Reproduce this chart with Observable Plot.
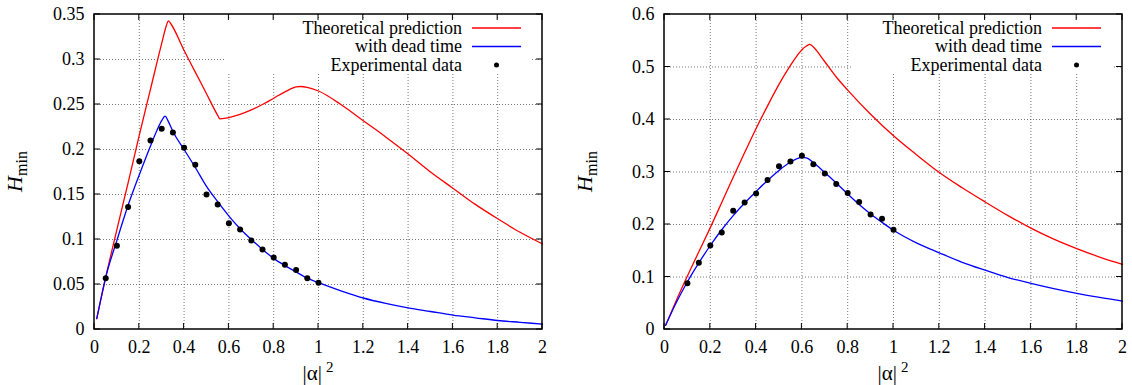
<!DOCTYPE html>
<html>
<head>
<meta charset="utf-8">
<script src="https://cdn.jsdelivr.net/npm/d3@7"></script>
<script src="https://cdn.jsdelivr.net/npm/@observablehq/plot@0.6"></script>
<style>
  html, body { margin: 0; padding: 0; background: #fff; }
  #wrap { display: flex; width: 1132px; height: 385px; overflow: hidden; }
</style>
</head>
<body>
<div id="wrap"></div>
<script>
// ---------- shared ticks ----------
const xTicks = [0, 0.2, 0.4, 0.6, 0.8, 1.0, 1.2, 1.4, 1.6, 1.8, 2.0];
const yTicksLeft = [0, 0.05, 0.1, 0.15, 0.2, 0.25, 0.3, 0.35];
const yTicksRight = [0, 0.1, 0.2, 0.3, 0.4, 0.5, 0.6];
const legendLabels = ["Theoretical prediction", "with dead time", "Experimental data"];

// ---------- left panel ----------
const leftTheoryX = [0.01,0.05,0.1,0.15,0.2,0.25,0.3,0.32,0.33,0.34,0.4,0.45,0.5,0.55,0.56,0.57,0.6,0.65,0.7,0.75,0.8,0.85,0.9,0.92,0.95,1.0,1.1,1.2,1.3,1.4,1.5,1.6,1.7,1.8,1.9,2.0];
const leftTheoryY = [0.012,0.058,0.111,0.163,0.216,0.267,0.318,0.337,0.343,0.340,0.310,0.286,0.262,0.238,0.234,0.2343,0.2355,0.239,0.244,0.250,0.257,0.264,0.2695,0.270,0.269,0.265,0.250,0.232,0.214,0.195,0.175,0.157,0.139,0.123,0.108,0.095];
const leftDeadX = [0.01,0.05,0.1,0.15,0.2,0.25,0.28,0.3,0.315,0.33,0.35,0.4,0.45,0.5,0.55,0.6,0.65,0.7,0.75,0.8,0.85,0.9,0.95,1.0,1.1,1.2,1.3,1.4,1.5,1.6,1.7,1.8,1.9,2.0];
const leftDeadY = [0.012,0.058,0.099,0.138,0.172,0.204,0.222,0.232,0.237,0.231,0.220,0.200,0.180,0.159,0.142,0.126,0.112,0.100,0.089,0.079,0.071,0.064,0.057,0.052,0.043,0.035,0.029,0.024,0.020,0.016,0.013,0.010,0.008,0.006];
const leftExpX = [0.05,0.1,0.15,0.2,0.25,0.3,0.35,0.4,0.45,0.5,0.55,0.6,0.65,0.7,0.75,0.8,0.85,0.9,0.95,1.0];
const leftExpY = [0.057,0.093,0.136,0.187,0.210,0.223,0.219,0.202,0.183,0.150,0.139,0.118,0.111,0.099,0.089,0.080,0.072,0.066,0.057,0.052];

// ---------- right panel ----------
const rightTheoryX = [0.005,0.05,0.1,0.15,0.2,0.25,0.3,0.35,0.4,0.45,0.5,0.55,0.58,0.6,0.62,0.635,0.65,0.7,0.75,0.8,0.9,1.0,1.1,1.2,1.3,1.4,1.5,1.6,1.7,1.8,1.9,2.0];
const rightTheoryY = [0.008,0.054,0.102,0.148,0.194,0.242,0.290,0.337,0.383,0.426,0.467,0.503,0.522,0.533,0.540,0.543,0.538,0.510,0.481,0.456,0.410,0.369,0.333,0.299,0.270,0.243,0.217,0.193,0.172,0.154,0.138,0.124];
const rightDeadX = [0.005,0.05,0.1,0.15,0.2,0.25,0.3,0.35,0.4,0.45,0.5,0.55,0.6,0.62,0.65,0.7,0.75,0.8,0.85,0.9,0.95,1.0,1.1,1.2,1.3,1.4,1.5,1.6,1.7,1.8,1.9,2.0];
const rightDeadY = [0.008,0.050,0.091,0.127,0.160,0.190,0.217,0.241,0.263,0.284,0.303,0.319,0.328,0.327,0.318,0.299,0.279,0.258,0.238,0.220,0.204,0.189,0.165,0.146,0.128,0.113,0.099,0.088,0.078,0.069,0.061,0.054];
const rightExpX = [0.1,0.15,0.2,0.25,0.3,0.35,0.4,0.45,0.5,0.55,0.6,0.65,0.7,0.75,0.8,0.85,0.9,0.95,1.0];
const rightExpY = [0.088,0.127,0.160,0.185,0.226,0.242,0.259,0.285,0.311,0.320,0.331,0.315,0.297,0.277,0.260,0.243,0.219,0.211,0.190];

const FONT = "'Liberation Serif', 'Times New Roman', serif";
const fmt = d => d === 0 ? "0" : String(+(+d).toFixed(2));
const zip = (xs, ys) => xs.map((x, i) => ({x, y: ys[i]}));

function panel({theoryX, theoryY, deadX, deadY, expX, expY, yMax, yTicks, marginLeft, marginRight, boxLeftOffset}) {
  const W = 566, H = 385, mT = 14, mB = 56;
  const grid = {stroke: "#555", strokeWidth: 0.8, strokeDasharray: "1,2"};
  const plot = Plot.plot({
    width: W, height: H,
    marginTop: mT, marginBottom: mB, marginLeft, marginRight,
    style: {fontFamily: FONT, fontSize: "18px", color: "#000", background: "#fff", overflow: "visible"},
    x: {domain: [0, 2], ticks: xTicks, tickFormat: fmt, tickSize: 0, tickPadding: 11, label: null},
    y: {domain: [0, yMax], ticks: yTicks, tickFormat: fmt, tickSize: 0, tickPadding: 10, label: null},
    marks: [
      Plot.ruleX(xTicks.slice(1, -1), {x: d => d, ...grid}),
      Plot.ruleY(yTicks.slice(1, -1), {y: d => d, ...grid}),
      Plot.line(zip(theoryX, theoryY), {x: "x", y: "y", stroke: "#ff0000", strokeWidth: 1.3, curve: "monotone-x"}),
      Plot.line(zip(deadX, deadY), {x: "x", y: "y", stroke: "#0000ff", strokeWidth: 1.3, curve: "monotone-x"}),
      Plot.dot(zip(expX, expY), {x: "x", y: "y", r: 3, fill: "#000", stroke: "none"})
    ]
  });
  const svg = d3.select(plot);
  svg.selectAll("text").attr("font-family", FONT).style("font-family", FONT).style("font-size", "18px");
  const fL = marginLeft, fR = W - marginRight, fT = mT, fB = H - mB;

  // legend (opaque box, as in gnuplot)
  const lg = svg.append("g").attr("font-family", FONT).attr("font-size", 18);
  lg.append("rect").attr("x", fR - boxLeftOffset).attr("y", fT + 6)
    .attr("width", boxLeftOffset - 10).attr("height", 53).attr("fill", "#fff");
  const rows = [fT + 14, fT + 32.5, fT + 51];
  legendLabels.forEach((t, i) => {
    lg.append("text").attr("x", fR - 80).attr("y", rows[i]).attr("dy", "0.33em")
      .attr("text-anchor", "end").text(t);
  });
  lg.append("line").attr("x1", fR - 70).attr("x2", fR - 21).attr("y1", rows[0]).attr("y2", rows[0])
    .attr("stroke", "#ff0000").attr("stroke-width", 1.3);
  lg.append("line").attr("x1", fR - 70).attr("x2", fR - 21).attr("y1", rows[1]).attr("y2", rows[1])
    .attr("stroke", "#0000ff").attr("stroke-width", 1.3);
  lg.append("circle").attr("cx", fR - 45.5).attr("cy", rows[2]).attr("r", 2.5).attr("fill", "#000");

  // inward mirror ticks (gnuplot style)
  const tk = svg.append("g").attr("stroke", "#000").attr("stroke-width", 1);
  const xs = d3.scaleLinear([0, 2], [fL, fR]);
  const ys = d3.scaleLinear([0, yMax], [fB, fT]);
  xTicks.forEach(v => {
    tk.append("line").attr("x1", xs(v)).attr("x2", xs(v)).attr("y1", fB).attr("y2", fB - 6);
    tk.append("line").attr("x1", xs(v)).attr("x2", xs(v)).attr("y1", fT).attr("y2", fT + 6);
  });
  yTicks.forEach(v => {
    tk.append("line").attr("y1", ys(v)).attr("y2", ys(v)).attr("x1", fL).attr("x2", fL + 6);
    tk.append("line").attr("y1", ys(v)).attr("y2", ys(v)).attr("x1", fR).attr("x2", fR - 6);
  });
  // frame
  svg.append("rect").attr("x", fL).attr("y", fT).attr("width", fR - fL).attr("height", fB - fT)
    .attr("fill", "none").attr("stroke", "#000").attr("stroke-width", 1.5);

  // axis labels
  const xl = svg.append("text").attr("x", (fL + fR) / 2).attr("y", fB + 51)
    .attr("text-anchor", "middle").attr("font-family", FONT).attr("font-size", 21);
  xl.append("tspan").text("|α|");
  xl.append("tspan").attr("dx", 4).attr("dy", -8).attr("font-size", 15).text("2");
  const yl = svg.append("text").attr("transform", `translate(${fL - 72},${(fT + fB) / 2}) rotate(-90)`)
    .attr("text-anchor", "middle").attr("font-family", FONT).attr("font-size", 22);
  yl.append("tspan").attr("font-style", "italic").text("H");
  yl.append("tspan").attr("dy", 5).attr("font-size", 16).text("min");
  return plot;
}

const wrap = document.getElementById("wrap");
wrap.append(panel({
  theoryX: leftTheoryX, theoryY: leftTheoryY, deadX: leftDeadX, deadY: leftDeadY,
  expX: leftExpX, expY: leftExpY, yMax: 0.35, yTicks: yTicksLeft,
  marginLeft: 94, marginRight: 24, boxLeftOffset: 318
}));
wrap.append(panel({
  theoryX: rightTheoryX, theoryY: rightTheoryY, deadX: rightDeadX, deadY: rightDeadY,
  expX: rightExpX, expY: rightExpY, yMax: 0.6, yTicks: yTicksRight,
  marginLeft: 98, marginRight: 10, boxLeftOffset: 270
}));
</script>
</body>
</html>
